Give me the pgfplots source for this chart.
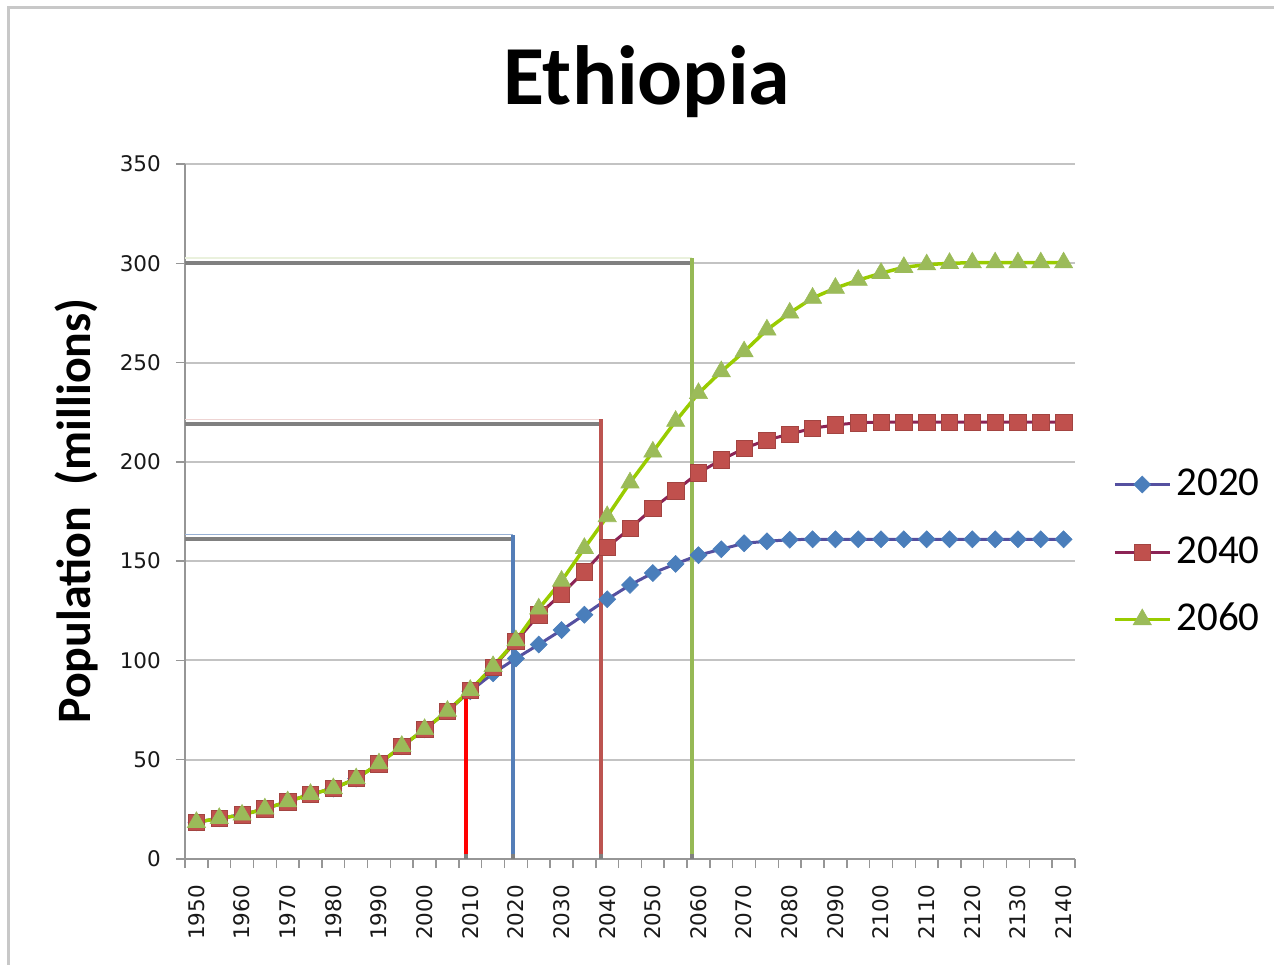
\documentclass[border=0pt]{standalone}
\usepackage{fontspec}
\setmainfont{Carlito}
\newfontfamily\tickfont{DejaVu Sans}
\usepackage{pgfplots}
\usepackage{pgfplotstable}
\pgfplotsset{compat=1.18}

% series colours
\definecolor{markA}{RGB}{74,126,187}
\definecolor{lineA}{RGB}{85,80,160}
\definecolor{markB}{RGB}{192,80,77}
\definecolor{lineB}{RGB}{140,35,85}
\definecolor{markC}{RGB}{155,187,89}
\definecolor{lineC}{RGB}{153,204,0}
% guide lines
\definecolor{guideRed}{RGB}{255,0,0}
\definecolor{guideBlue}{RGB}{84,126,184}
\definecolor{guideBrown}{RGB}{188,84,80}
\definecolor{guideGreen}{RGB}{150,185,85}
\definecolor{shadowgray}{RGB}{128,128,128}
\definecolor{axisgray}{RGB}{150,150,150}
\definecolor{gridgray}{RGB}{195,195,195}
\definecolor{framegray}{RGB}{200,200,200}

% Ethiopia population projections (millions), by year of stabilisation
\pgfplotstableread{
year  p2020  p2040  p2060
1950  18.5   18.5   18.5
1955  20.5   20.5   20.5
1960  22.2   22.2   22.2
1965  25.3   25.3   25.3
1970  28.9   28.9   28.9
1975  32.6   32.6   32.6
1980  35.5   35.5   35.5
1985  40.5   40.5   40.5
1990  48.0   48.0   48.0
1995  56.8   56.8   56.8
2000  65.3   65.3   65.3
2005  74.5   74.5   74.5
2010  84.5   85.0   85.0
2015  93.5   96.5   97.0
2020  101.0  109.5  110.0
2025  108.0  123.0  126.0
2030  115.3  133.5  140.0
2035  123.0  144.7  156.5
2040  130.8  157.0  172.5
2045  138.0  166.5  189.5
2050  144.0  176.5  205.0
2055  148.6  185.5  220.5
2060  153.0  194.5  234.5
2065  156.0  201.0  245.5
2070  159.0  206.8  255.5
2075  160.0  211.0  266.5
2080  160.8  214.0  275.0
2085  161.0  216.9  282.5
2090  161.0  218.6  287.5
2095  161.0  219.7  291.5
2100  161.0  220.0  295.0
2105  161.0  220.0  298.0
2110  161.0  220.0  299.3
2115  161.0  220.0  300.0
2120  161.0  220.0  300.3
2125  161.0  220.0  300.3
2130  161.0  220.0  300.3
2135  161.0  220.0  300.3
2140  161.0  220.0  300.3
}\ethiopia

\begin{document}
\begin{tikzpicture}[x=1pt,y=1pt]
\path[use as bounding box] (0,0) rectangle (1274,964);
% chart area border
\draw[framegray, line width=2.6pt] (8.5,-10) -- (8.5,956.5) -- (1290,956.5);

\node[anchor=base, font=\fontsize{84}{96}\selectfont\bfseries] at (646.5,859) {Ethiopia};
\node[anchor=base, rotate=90, font=\fontsize{48}{56}\selectfont\bfseries] at (90,453) {Population\ \ (millions)};

\begin{axis}[
  at={(185pt,105pt)}, anchor=south west,
  scale only axis, width=890pt, height=695pt,
  xmin=1947.5, xmax=2142.5, ymin=0, ymax=350,
  xtick={1950,1960,...,2140},
  minor xtick={1947.5,1952.5,...,2142.5},
  ytick={0,50,...,350},
  axis x line*=bottom, axis y line*=left,
  axis line style={-, draw=axisgray, line width=1.8pt},
  tick align=outside, major tick length=9pt, minor tick length=9pt,
  every major x tick/.append style={draw=none},
  every minor x tick/.append style={draw=axisgray, line width=1.5pt},
  every major y tick/.append style={draw=axisgray, line width=1.5pt},
  ymajorgrids, grid style={draw=gridgray, line width=2pt},
  /pgf/number format/assume math mode=true,
  /pgf/number format/1000 sep={},
  tick label style={font=\tickfont\fontsize{21.5}{25}\selectfont, text=black!90},
  xticklabel style={rotate=90, anchor=east, inner sep=0pt},
  xticklabel shift=17pt,
  yticklabel style={anchor=east, inner sep=0pt, xshift=-15pt},
  legend style={
    at={(1.0427,0.4417)}, anchor=west,
    draw=none, fill=none, inner sep=0pt, outer sep=0pt,
    row sep=29.5pt, column sep=5pt,
    font=\fontsize{41}{46}\selectfont,
    nodes={inner sep=0pt, text height=30pt, text depth=8pt},
  },
  legend cell align=left,
  legend image code/.code={%
    \draw[mark repeat=2, mark phase=2, #1] plot coordinates {(0pt,0pt) (27.5pt,0pt) (55pt,0pt)};},
]

\addplot[lineA, line width=3pt, mark=square*, mark size=6pt,
  mark options={rotate=45, fill=markA, draw=markA, line width=0.6pt}]
  table[x=year, y=p2020] {\ethiopia};
\addlegendentry{2020}
\addplot[lineB, line width=3pt, mark=square*, mark size=8.2pt,
  mark options={fill=markB, draw=markB!85!black, line width=0.6pt}]
  table[x=year, y=p2040] {\ethiopia};
\addlegendentry{2040}
\addplot[lineC, line width=3.5pt, mark=triangle*, mark size=10.5pt,
  mark options={fill=markC, draw=markC, line width=0.6pt}]
  table[x=year, y=p2060] {\ethiopia};
\addlegendentry{2060}

% guide lines: horizontal levels with their shadows
\addplot[forget plot, guideBlue!60, line width=1.6pt] coordinates {(1947.5,163.4) (2019.3,163.4)};
\addplot[forget plot, shadowgray, line width=4pt] coordinates {(1947.5,161.2) (2019.3,161.2)};
\addplot[forget plot, guideBrown!25, line width=1.6pt] coordinates {(1947.5,221.4) (2038.6,221.4)};
\addplot[forget plot, shadowgray, line width=4pt] coordinates {(1947.5,219.2) (2038.6,219.2)};
\addplot[forget plot, guideGreen!20, line width=1.6pt] coordinates {(1947.5,302.6) (2058.6,302.6)};
\addplot[forget plot, shadowgray, line width=4pt] coordinates {(1947.5,300.2) (2058.6,300.2)};
% vertical markers of the years
\addplot[forget plot, shadowgray, line width=4pt] coordinates {(2009,0) (2009,80)};
\addplot[forget plot, guideRed, line width=4pt] coordinates {(2009,2.5) (2009,83)};
\addplot[forget plot, shadowgray, line width=4pt] coordinates {(2019.3,0) (2019.3,160)};
\addplot[forget plot, guideBlue, line width=4pt] coordinates {(2019.3,2.5) (2019.3,163.4)};
\addplot[forget plot, shadowgray, line width=4pt] coordinates {(2038.6,0) (2038.6,218)};
\addplot[forget plot, guideBrown, line width=4pt] coordinates {(2038.6,2.5) (2038.6,221.4)};
\addplot[forget plot, shadowgray, line width=4pt] coordinates {(2058.6,0) (2058.6,299)};
\addplot[forget plot, guideGreen, line width=4pt] coordinates {(2058.6,2.5) (2058.6,302.6)};
\end{axis}
\end{tikzpicture}
\end{document}
